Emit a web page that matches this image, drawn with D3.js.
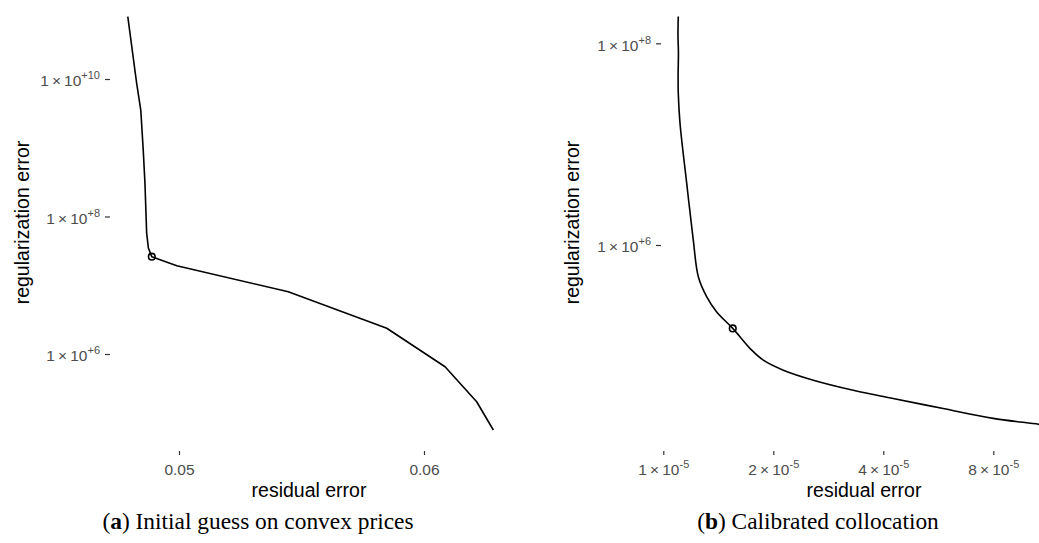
<!DOCTYPE html>
<html>
<head>
<meta charset="utf-8">
<script src="https://cdn.jsdelivr.net/npm/d3@7"></script>
<style>
  body { margin: 0; background: #fff; }
  svg { display: block; }
</style>
</head>
<body>
<div id="chart"></div>
<script>
// panel (a): initial guess on convex prices
const leftResidual = [0.04791, 0.04827, 0.04844, 0.04854, 0.04861, 0.04868, 0.04875, 0.04889,
                      0.04991, 0.05446, 0.05848, 0.06086, 0.06215, 0.06283];
const leftReg = [8.05e10, 8.75e9, 3.54e9, 9.27e8, 3.07e8, 5.75e7, 3.48e7, 2.60e7,
                 1.92e7, 8.05e6, 2.37e6, 6.53e5, 2.02e5, 7.85e4];
const leftPick = { residual: 0.04889, reg: 2.60e7 };
const leftXTicks = [0.05, 0.06];
const leftYTicks = [1e10, 1e8, 1e6];

// panel (b): calibrated collocation
const rightResidual = [1.099e-5, 1.097e-5, 1.100e-5, 1.098e-5, 1.099e-5, 1.111e-5, 1.159e-5, 1.208e-5,
                       1.247e-5, 1.315e-5, 1.400e-5, 1.549e-5, 1.746e-5, 1.878e-5, 2.130e-5,
                       2.574e-5, 3.311e-5, 4.256e-5, 5.835e-5, 7.992e-5, 1.062e-4, 1.10e-4];
const rightReg = [1.84e8, 1.2e8, 8e7, 5e7, 3.19e7, 1.61e7, 4.08e6, 1.12e6,
                  4.84e5, 3.06e5, 2.17e5, 1.49e5, 9.06e4, 7.21e4, 5.74e4,
                  4.57e4, 3.63e4, 3.01e4, 2.39e4, 1.91e4, 1.67e4, 1.63e4];
const rightPick = { residual: 1.549e-5, reg: 1.49e5 };
const rightXTicks = [1e-5, 2e-5, 4e-5, 8e-5];
const rightYTicks = [1e8, 1e6];

const W = 1039, H = 543;
const sans = "'Liberation Sans', Arial, Helvetica, sans-serif";
const serif = "'Liberation Serif', 'Times New Roman', serif";
const svg = d3.select("#chart").append("svg")
  .attr("width", W).attr("height", H)
  .style("font-family", sans);

svg.append("rect").attr("width", W).attr("height", H).attr("fill", "#fff");

const tickFont = 15.5, supFont = 11, titleFont = 19.5;

function sciLabel(text, mant, exp) {
  text.text(null);
  text.append("tspan").text(mant + "\u2009\u00d7\u200910");
  text.append("tspan")
    .attr("font-size", supFont)
    .attr("dy", -7)
    .text(exp);
}

function panel(cfg) {
  const g = svg.append("g");
  const clipId = "clip-" + cfg.id;
  svg.append("clipPath").attr("id", clipId)
    .append("rect")
    .attr("x", cfg.px0).attr("y", 0)
    .attr("width", cfg.px1 - cfg.px0).attr("height", cfg.py1);

  const line = d3.line()
    .x(d => cfg.x(d[0]))
    .y(d => cfg.y(d[1]))
    .curve(cfg.curve);

  const pts = cfg.xs.map((v, i) => [v, cfg.ys[i]]);
  g.append("path")
    .attr("clip-path", `url(#${clipId})`)
    .attr("d", line(pts))
    .attr("fill", "none")
    .attr("stroke", "#000")
    .attr("stroke-width", 1.6)
    .attr("stroke-linejoin", "round");

  g.append("circle")
    .attr("cx", cfg.x(cfg.pick.residual))
    .attr("cy", cfg.y(cfg.pick.reg))
    .attr("r", 3.3)
    .attr("fill", "none")
    .attr("stroke", "#000")
    .attr("stroke-width", 1.6);

  // y axis
  const ya = g.append("g")
    .attr("transform", `translate(${cfg.px0},0)`)
    .call(d3.axisLeft(cfg.y).tickValues(cfg.yTicks).tickSize(5).tickPadding(5));
  ya.attr("font-family", sans);
  ya.select(".domain").remove();
  ya.selectAll(".tick line").attr("stroke", "#333").attr("stroke-width", 1.2);
  ya.selectAll(".tick text")
    .attr("fill", "#4d4d4d")
    .attr("font-size", tickFont)
    .attr("dy", "0.45em")
    .each(function(d) {
      const e = Math.round(Math.log10(d));
      sciLabel(d3.select(this), "1", "+" + e);
    });

  // x axis
  const xa = g.append("g")
    .attr("transform", `translate(0,${cfg.py1})`)
    .call(d3.axisBottom(cfg.x).tickValues(cfg.xTicks).tickSize(4).tickPadding(6));
  xa.attr("font-family", sans);
  xa.select(".domain").remove();
  xa.selectAll(".tick line").attr("stroke", "#333").attr("stroke-width", 1.2);
  xa.selectAll(".tick text")
    .attr("fill", "#4d4d4d")
    .attr("font-size", tickFont)
    .attr("dy", "0.9em")
    .each(function(d) {
      if (cfg.sciX) {
        const e = Math.floor(Math.log10(d) + 1e-9);
        const m = Math.round(d / Math.pow(10, e));
        sciLabel(d3.select(this), m, "-" + (-e));
      } else {
        d3.select(this).text(d3.format(".2f")(d));
      }
    });

  // axis titles
  svg.append("text")
    .attr("x", cfg.xTitleX).attr("y", 497)
    .attr("text-anchor", "middle")
    .attr("font-size", titleFont)
    .attr("fill", "#000")
    .text("residual error");

  svg.append("text")
    .attr("transform", `translate(${cfg.yTitleX},222.5) rotate(-90)`)
    .attr("text-anchor", "middle")
    .attr("font-size", titleFont)
    .attr("fill", "#000")
    .text("regularization error");

  // caption
  const cap = svg.append("text")
    .attr("x", cfg.capX).attr("y", 529)
    .attr("text-anchor", "middle")
    .attr("font-family", serif)
    .attr("font-size", 23.4)
    .attr("fill", "#000");
  cap.append("tspan").text("(");
  cap.append("tspan").attr("font-weight", "bold").text(cfg.letter);
  cap.append("tspan").text(") " + cfg.caption);
}

// left panel scales
const xLeft = d3.scaleLinear().domain([0.05, 0.06]).range([179, 424]);
const yLeft = d3.scaleLog().domain([1e10, 1e6]).range([79, 354]);

panel({
  id: "a", x: xLeft, y: yLeft,
  xs: leftResidual, ys: leftReg, pick: leftPick,
  xTicks: leftXTicks, yTicks: leftYTicks, sciX: false,
  px0: 110, px1: 512, py1: 451, curve: d3.curveLinear,
  xTitleX: 309, yTitleX: 29, capX: 258,
  letter: "a", caption: "Initial guess on convex prices"
});

// right panel scales
const xRight = d3.scaleLog().domain([1e-5, 8e-5]).range([663.3, 993.3]);
const yRight = d3.scaleLog().domain([1e8, 1e6]).range([43.3, 245]);

panel({
  id: "b", x: xRight, y: yRight,
  xs: rightResidual, ys: rightReg, pick: rightPick,
  xTicks: rightXTicks, yTicks: rightYTicks, sciX: true,
  px0: 661, px1: 1066, py1: 451, curve: d3.curveCatmullRom.alpha(0.5),
  xTitleX: 864, yTitleX: 579, capX: 818,
  letter: "b", caption: "Calibrated collocation"
});
</script>
</body>
</html>
